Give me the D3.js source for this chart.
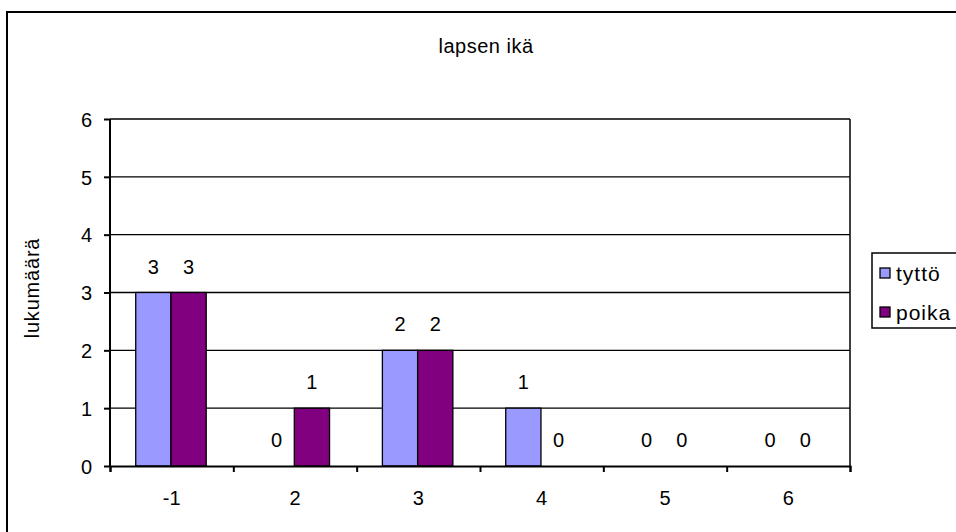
<!DOCTYPE html>
<html><head><meta charset="utf-8">
<script src="https://cdn.jsdelivr.net/npm/d3@7"></script>
<style>body{margin:0;background:#fff}svg{display:block}text{font-family:"Liberation Sans",Arial,sans-serif;fill:#000}</style>
</head><body>
<svg id="c" width="956" height="532"></svg>
<script>
const categories = ["-1","2","3","4","5","6"];
const seriesNames = ["tyttö","poika"];
const tytto = [3,0,2,1,0,0];
const poika = [3,1,2,0,0,0];
const yTicks = [0,1,2,3,4,5,6];
const colors = ["#9999FF","#800080"];
const title = "lapsen ikä";
const yLabel = "lukumäärä";

const FS = 20;
const svg = d3.select("#c");
svg.append("rect").attr("x",7).attr("y",12).attr("width",960).attr("height",540)
  .attr("fill","#fff").attr("stroke","#000").attr("stroke-width",2);

const L=110,R=850,T=119,B=466;
const x = d3.scaleBand().domain(categories).range([L,R]).paddingInner(0).paddingOuter(0);
const y = d3.scaleLinear().domain([0,6]).range([B,T]);
const bw = x.bandwidth()/3.5;

const data = categories.map((c,i)=>({c, vals:[tytto[i],poika[i]]}));

// gridlines
svg.append("g").selectAll("line").data(yTicks.filter(d=>d>0)).join("line")
  .attr("x1",L).attr("x2",R).attr("y1",d=>y(d)).attr("y2",d=>y(d))
  .attr("stroke","#000").attr("stroke-width",1.3);
svg.append("line").attr("x1",R).attr("x2",R).attr("y1",T).attr("y2",B).attr("stroke","#000").attr("stroke-width",1.5);

// bars
data.forEach(d=>{
  d.vals.forEach((v,j)=>{
    const bx = x(d.c) + x.bandwidth()/2 - bw + j*bw - 0.7;
    if(v>0){
      svg.append("rect").attr("x",bx).attr("y",y(v)).attr("width",bw).attr("height",y(0)-y(v))
        .attr("fill",colors[j]).attr("stroke","#000").attr("stroke-width",1.3);
    }
    svg.append("text").attr("x",bx+bw/2).attr("y",y(v)-19).attr("text-anchor","middle")
      .style("font-size",FS+"px").text(v);
  });
});

// axes
const ya = svg.append("g").attr("transform",`translate(${L},0)`)
  .call(d3.axisLeft(y).tickValues(yTicks).tickSize(6).tickPadding(12).tickFormat(d3.format("d")));
const xa = svg.append("g").attr("transform",`translate(0,${B})`)
  .call(d3.axisBottom(d3.scalePoint().domain(d3.range(7)).range([L,R])).tickSize(6).tickFormat(""));
[ya,xa].forEach(a=>{a.select(".domain").attr("stroke","#000").attr("stroke-width",2);
  a.selectAll(".tick line").attr("stroke","#000").attr("stroke-width",2);});
ya.selectAll(".tick text").style("font-size",FS+"px").attr("font-family","Liberation Sans, Arial, sans-serif").attr("fill","#000").attr("dy","0.36em");
ya.select(".domain").attr("d",`M0,${T}V${B}`);
svg.append("g").selectAll("text").data(categories).join("text")
  .attr("x",d=>x(d)+x.bandwidth()/2).attr("y",B+39).attr("text-anchor","middle")
  .style("font-size",FS+"px").text(d=>d);

// title
svg.append("text").attr("x",486).attr("y",53).attr("text-anchor","middle").style("font-size","20px").attr("letter-spacing",0.5).text(title);
// y label
svg.append("text").attr("transform","translate(39,288) rotate(-90)").attr("text-anchor","middle").style("font-size","20px").attr("letter-spacing",0.8).text(yLabel);

// legend
const lg = svg.append("g");
lg.append("rect").attr("x",872).attr("y",253).attr("width",100).attr("height",75).attr("fill","#fff").attr("stroke","#000").attr("stroke-width",1.5);
seriesNames.forEach((n,i)=>{
  lg.append("rect").attr("x",880).attr("y",268+i*39).attr("width",10).attr("height",10).attr("fill",colors[i]).attr("stroke","#000").attr("stroke-width",1.3);
  lg.append("text").attr("x",896).attr("y",281+i*39).style("font-size","21px").attr("letter-spacing",1).text(n);
});
</script>
</body></html>
